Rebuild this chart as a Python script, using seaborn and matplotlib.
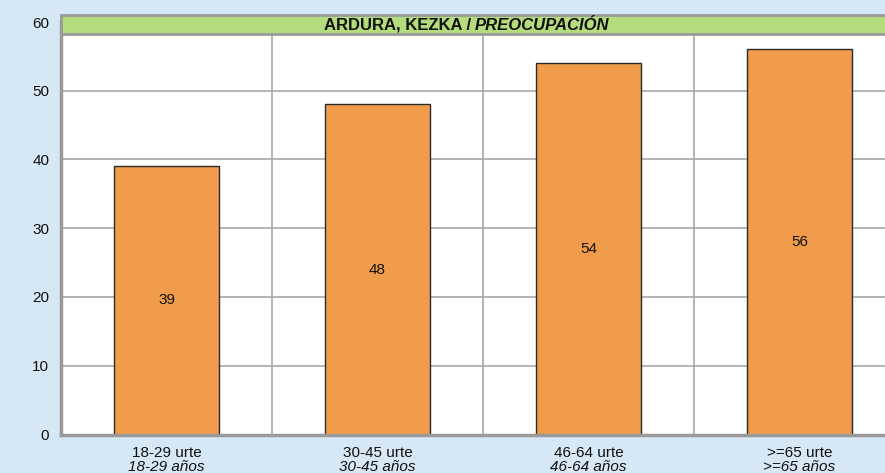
import matplotlib
matplotlib.use("Agg")
import matplotlib.pyplot as plt
import seaborn as sns
import pandas as pd
from matplotlib.patches import Rectangle
from matplotlib.transforms import blended_transform_factory

# Data

categories = ["18-29 urte", "30-45 urte", "46-64 urte", ">=65 urte"]
categories_es = ["18-29 años", "30-45 años", "46-64 años", ">=65 años"]
values = [39, 48, 54, 56]
y_ticks = [0, 10, 20, 30, 40, 50, 60]

df = pd.DataFrame({"category": categories, "value": values})

sns.set_style("white")
plt.rcParams["font.family"] = ["Liberation Sans", "DejaVu Sans"]

bg = "#d6e7f5"
grid_color = "#a8a8a8"
fs = 11

fig = plt.figure(figsize=(8.85, 4.73), dpi=100, facecolor=bg)
W, H = 885, 473
ax = fig.add_axes([61 / W, 1 - 434.5 / H, 844 / W, 412.5 / H])
ax.set_facecolor("white")

sns.barplot(data=df, x="category", y="value", color="#f09c4a", width=0.5,
            edgecolor="#2a2a2a", linewidth=1, saturation=1, ax=ax, zorder=3)

ax.set_ylim(0, 60)
ax.set_xlim(-0.5, 3.5)
ax.set_yticks(y_ticks)
ax.set_xlabel("")
ax.set_ylabel("")

# grid
for t in y_ticks[1:]:
    ax.axhline(t, color=grid_color, lw=1.2, zorder=1)
for xb in [0.5, 1.5, 2.5]:
    ax.axvline(xb, color=grid_color, lw=1.2, zorder=1)

for s in ["top", "right"]:
    ax.spines[s].set_visible(False)
for s in ["left", "bottom"]:
    ax.spines[s].set_color("#9a9a9a")
    ax.spines[s].set_linewidth(2.5)
    ax.spines[s].set_zorder(4)

ax.tick_params(axis="y", length=0, pad=8.5, labelsize=fs, labelcolor="#111111")
ax.tick_params(axis="x", length=0, pad=8, labelsize=fs, labelcolor="#111111")

# italic spanish labels under the tick labels
trans = blended_transform_factory(ax.transData, fig.transFigure)
for i, lab in enumerate(categories_es):
    ax.text(i, 1 - 466.5 / H, lab, transform=trans, ha="center", va="center",
            fontsize=fs, style="italic", color="#111111")

# value labels in the middle of each bar
for i, v in enumerate(values):
    ax.text(i, v / 2, str(v), ha="center", va="center", fontsize=fs,
            color="#111111", zorder=5)

# green title band
band = Rectangle((61 / W, 1 - 34.5 / H), 1 - 61 / W + 0.01, 19 / H,
                 transform=fig.transFigure, facecolor="#b5dc7c",
                 edgecolor="#9a9a9a", linewidth=2, zorder=10)
fig.patches.append(band)
fig.text(471 / W, 1 - 25 / H, "ARDURA, KEZKA /", ha="right", va="center",
         fontsize=12, fontweight="bold", color="#111111", zorder=11)
fig.text(475 / W, 1 - 25 / H, "PREOCUPACIÓN", ha="left", va="center",
         fontsize=12, fontweight="bold", style="italic", color="#111111", zorder=11)

fig.savefig("out.png", dpi=100, facecolor=bg)
